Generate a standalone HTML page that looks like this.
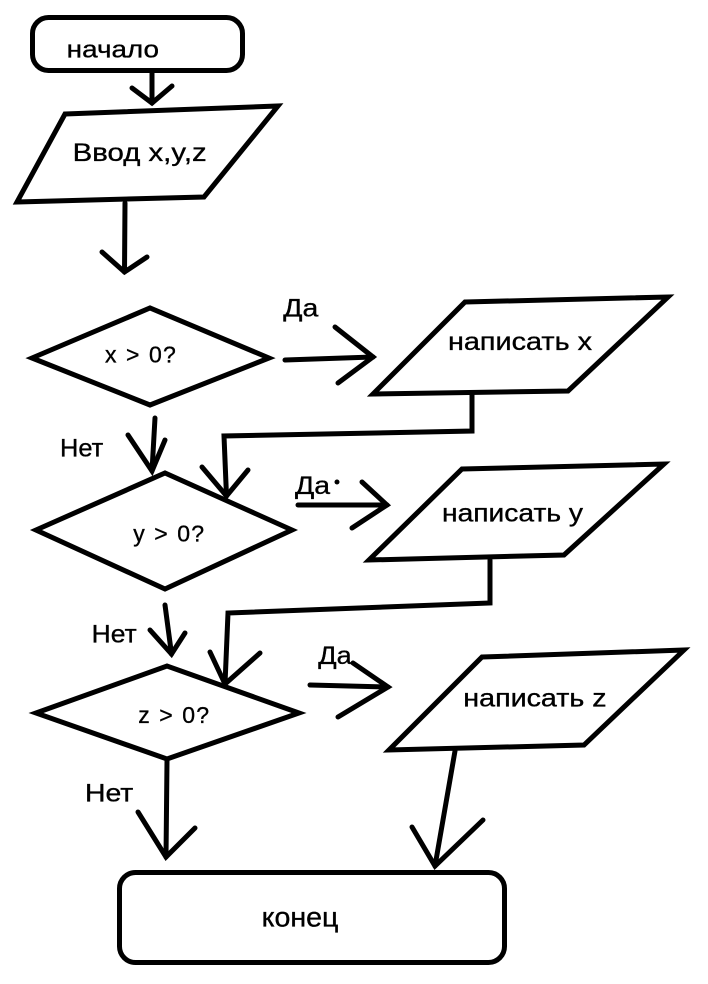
<!DOCTYPE html>
<html>
<head>
<meta charset="utf-8">
<style>
  html, body { margin: 0; padding: 0; background: #ffffff; }
  svg { display: block; }
  text { font-family: "Liberation Sans", "Noto Sans CJK JP", sans-serif; fill: #000; stroke: #000; stroke-width: 0.35; }
</style>
</head>
<body>
<svg width="708" height="984" viewBox="0 0 708 984" xmlns="http://www.w3.org/2000/svg">
  <rect x="0" y="0" width="708" height="984" fill="#ffffff"/>
  <g fill="none" stroke="#000" stroke-width="5" stroke-linejoin="miter" stroke-linecap="round">
    <!-- начало -->
    <rect x="32.5" y="17.5" width="210" height="53" rx="16" ry="16"/>
    <!-- arrow 1 -->
    <line x1="152" y1="72" x2="152" y2="103"/>
    <polyline points="132,88 152,103 172,86"/>
    <!-- Ввод parallelogram -->
    <polygon points="65,114 278,106 204,197 17,202"/>
    <!-- arrow 2 -->
    <line x1="125" y1="203" x2="124.5" y2="272"/>
    <polyline points="102,252 124.5,272 147,257"/>
    <!-- diamond x>0 -->
    <polygon points="32,358 150,308 269,358 150,405"/>
    <!-- Да arrow 1 -->
    <line x1="285" y1="360" x2="373" y2="357"/>
    <polyline points="335,327 373,357 338,383"/>
    <!-- написать x -->
    <polygon points="465,302 668,297 568,391 373,394"/>
    <!-- connector from написать x -->
    <polyline points="472,394 472,431 224,436 226.5,496"/>
    <polyline points="202,467 226.5,496 248,470"/>
    <!-- Нет arrow 1 -->
    <line x1="155" y1="418" x2="152" y2="471"/>
    <polyline points="128,435 152,471 165,440"/>
    <!-- diamond y>0 -->
    <polygon points="36,530 165,473 292,530 165,589"/>
    <!-- Да arrow 2 -->
    <line x1="298" y1="505" x2="387" y2="505"/>
    <polyline points="362,482 387,505 352,528"/>
    <!-- написать y -->
    <polygon points="462,469 664,464 564,555 369,560"/>
    <!-- connector from написать y -->
    <polyline points="490,560 490,603 228,613 225,684"/>
    <polyline points="210,652 225,684 260,653"/>
    <!-- Нет arrow 2 -->
    <line x1="165" y1="605" x2="171.5" y2="654"/>
    <polyline points="150,630 171.5,654 185,633"/>
    <!-- diamond z>0 -->
    <polygon points="36,713 167,666 299,713 167,759"/>
    <!-- Да arrow 3 -->
    <line x1="310" y1="685" x2="388" y2="687"/>
    <polyline points="353,663 388,687 338,717"/>
    <!-- написать z -->
    <polygon points="482,657 684,650 584,745 389,750"/>
    <!-- arrow from написать z to конец -->
    <line x1="455" y1="751" x2="435" y2="866"/>
    <polyline points="412,827 435,866 483,820"/>
    <!-- Нет arrow 3 -->
    <line x1="167" y1="761" x2="166" y2="857"/>
    <polyline points="138,812 166,857 195,828"/>
    <!-- конец -->
    <rect x="119.5" y="872.5" width="385" height="90" rx="16" ry="16"/>
  </g>
  <circle cx="337" cy="482" r="2.5" fill="#000"/>

  <!-- texts -->
  <text x="66.7" y="57.3" font-size="24" textLength="92.3" lengthAdjust="spacingAndGlyphs">начало</text>
  <text x="72.7" y="161" font-size="25" textLength="134" lengthAdjust="spacingAndGlyphs">Ввод x,y,z</text>
  <text x="283.3" y="316.7" font-size="25" textLength="35" lengthAdjust="spacingAndGlyphs">Да</text>
  <text x="105 126 149 163" y="362.3" font-size="23">x&gt;0?</text>
  <text x="448" y="350" font-size="25" textLength="144" lengthAdjust="spacingAndGlyphs">написать x</text>
  <text x="60" y="456.7" font-size="25" textLength="43.3" lengthAdjust="spacingAndGlyphs">Нет</text>
  <text x="133.3 154.3 177.3 191.3" y="541.7" font-size="23">y&gt;0?</text>
  <text x="295" y="494" font-size="25" textLength="35" lengthAdjust="spacingAndGlyphs">Да</text>
  <text x="442" y="521.7" font-size="25" textLength="141" lengthAdjust="spacingAndGlyphs">написать y</text>
  <text x="91.7" y="642.7" font-size="25" textLength="45" lengthAdjust="spacingAndGlyphs">Нет</text>
  <text x="318.3" y="664" font-size="25" textLength="33.4" lengthAdjust="spacingAndGlyphs">Да</text>
  <text x="138.3 159.3 182.3 196.3" y="723" font-size="23">z&gt;0?</text>
  <text x="463.3" y="706.7" font-size="25" textLength="143.3" lengthAdjust="spacingAndGlyphs">написать z</text>
  <text x="85" y="801.7" font-size="25" textLength="48.3" lengthAdjust="spacingAndGlyphs">Нет</text>
  <text x="261.7" y="926.7" font-size="28" textLength="76.7" lengthAdjust="spacingAndGlyphs">конец</text>
</svg>
</body>
</html>
